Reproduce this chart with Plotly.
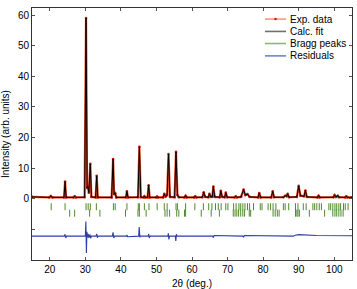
import plotly.graph_objects as go

# ---- data ----
# observed / calculated profile vertices (2theta, intensity)
profile_2theta = [
    15.0, 19.9, 20.3, 20.7, 24.0, 24.3, 24.6, 26.7, 27.0, 27.3,
    29.8, 30.2, 30.5, 30.7, 31.0, 31.4, 31.7, 32.9, 33.2, 33.5,
    37.4, 37.8, 38.1, 38.4, 38.7, 41.4, 41.7, 42.0, 44.8, 45.2, 45.6,
    46.4, 46.6, 46.8, 47.5, 47.8, 48.1, 50.0, 50.2, 50.4,
    51.9, 52.2, 52.6, 53.0, 53.4, 53.8, 55.1, 55.5, 55.9, 56.3,
    57.9, 58.2, 58.5, 60.6, 60.9, 61.2, 62.9, 63.3, 63.7, 64.6, 64.9, 65.3,
    65.7, 66.0, 66.4, 67.8, 68.1, 68.5, 69.2, 69.5, 69.9, 72.0, 72.3, 72.6,
    73.8, 74.5, 75.0, 75.6, 76.2, 78.6, 78.9, 79.3, 82.3, 82.7, 83.1,
    85.7, 86.2, 86.6, 86.9, 87.3, 89.5, 90.0, 90.5, 91.5, 91.9, 92.3,
    95.3, 95.6, 95.9, 99.8, 100.1, 100.5, 101.0, 101.3, 103.1, 103.4, 103.7, 105.0,
]
profile_intensity = [
    0.6, 0.45, 0.9, 0.45, 0.45, 5.6, 0.45, 0.45, 0.8, 0.45,
    0.5, 59.0, 3.5, 4.0, 2.0, 11.4, 0.6, 0.45, 7.5, 0.45,
    0.45, 13.0, 1.5, 1.8, 0.45, 0.45, 2.4, 0.45, 0.5, 17.0, 0.5,
    0.45, 0.8, 0.45, 0.45, 4.4, 0.45, 0.45, 0.7, 0.45,
    0.45, 1.6, 0.7, 1.2, 14.6, 0.6, 0.5, 15.3, 1.2, 0.5,
    0.45, 1.0, 0.45, 0.45, 0.8, 0.45, 0.5, 2.1, 0.6, 0.5, 1.6, 0.6,
    0.6, 4.0, 0.6, 0.5, 2.6, 0.6, 0.5, 2.0, 0.5, 0.45, 0.8, 0.45,
    0.6, 3.0, 1.2, 1.5, 0.6, 0.45, 1.9, 0.45, 0.45, 2.4, 0.5,
    0.5, 1.0, 0.8, 1.6, 0.5, 0.6, 4.2, 1.0, 0.8, 2.7, 0.6,
    0.45, 1.0, 0.45, 0.5, 1.2, 0.6, 1.0, 0.5, 0.45, 0.8, 0.45, 0.45,
]

# residual (obs - calc), drawn offset below the pattern
residual_2theta = [
    15.0, 24.1, 24.3, 24.5, 24.7, 30.0, 30.15, 30.3, 30.45, 30.6, 30.8, 31.0,
    31.3, 31.5, 31.7, 33.0, 33.2, 33.4, 33.6, 37.6, 37.8, 38.0, 38.2,
    41.6, 41.7, 41.9, 45.0, 45.15, 45.35, 45.5, 47.7, 47.8, 48.0, 48.2,
    53.2, 53.35, 53.5, 53.7, 55.3, 55.45, 55.6, 55.8, 65.8, 66.0, 66.2,
    74.3, 74.5, 74.7, 88.5, 89.0, 90.0, 92.0, 95.0, 105.0,
]
residual_value = [
    -12.2, -12.2, -11.6, -12.8, -12.2, -12.2, -7.4, -17.7, -10.8, -12.6, -11.5, -12.8,
    -11.6, -12.9, -12.2, -12.2, -11.5, -12.7, -12.2, -12.2, -11.0, -12.8, -12.2,
    -12.2, -11.8, -12.4, -12.2, -9.2, -12.6, -12.2, -12.2, -11.5, -12.8, -12.2,
    -12.2, -11.3, -13.3, -12.2, -12.2, -13.8, -11.6, -12.2, -12.2, -12.7, -12.0,
    -12.2, -12.6, -12.0, -12.2, -11.9, -11.7, -11.9, -12.0, -12.1,
]

# Bragg reflection positions, two phases
bragg_phase1 = [
    20.4, 24.3, 30.2, 30.8, 31.4, 33.1, 37.9, 38.4, 41.7, 44.9, 45.2, 46.6,
    47.9, 50.2, 52.2, 53.0, 55.5, 55.9, 58.2, 60.8, 63.2, 64.7, 65.6, 66.6,
    67.4, 68.2, 69.5, 70.1, 71.7, 72.4, 73.2, 73.7, 74.3, 74.9, 75.6, 76.2,
    77.3, 79.2, 79.7, 81.4, 82.1, 82.8, 83.6, 85.7, 86.2, 87.2, 89.1, 89.8,
    91.3, 92.1, 94.0, 94.5, 95.1, 95.8, 96.4, 98.5, 99.0, 99.6, 100.2, 100.7,
    101.3, 101.8, 102.6, 103.1, 103.9,
]
bragg_phase2 = [
    25.6, 27.0, 31.2, 34.1, 41.3, 44.8, 45.2, 47.1, 52.4, 53.0, 53.7, 55.7,
    56.3, 57.9, 58.2, 62.6, 65.4, 67.7, 71.6, 72.1, 72.6, 73.1, 73.7, 74.3,
    74.8, 76.1, 76.5, 82.8, 83.4, 84.0, 84.5, 89.1, 89.5, 89.8, 90.2, 93.0,
    97.3, 99.6, 100.2, 100.7, 101.3, 101.9, 102.5,
]
bragg_row_level = [-2.6, -4.7]

x_ticks = [20, 30, 40, 50, 60, 70, 80, 90, 100]
y_ticks = [-10, 0, 10, 20, 30, 40, 50, 60]
y_tick_text = ["", "0", "10", "20", "30", "40", "50", "60"]

legend_labels = ["Exp. data", "Calc. fit", "Bragg peaks", "Residuals"]

# ---- figure ----
FONT = "Liberation Sans, Arial, sans-serif"
RED = "#e4431f"
GREEN = "#4f8a2c"
BLUE = "#2d3fa3"

fig = go.Figure()
fig.add_trace(go.Scatter(
    x=profile_2theta, y=profile_intensity, mode="lines+markers",
    line=dict(color=RED, width=2.2),
    marker=dict(color="#c81e0a", size=2.6),
    showlegend=False, name=legend_labels[0]))
fig.add_trace(go.Scatter(
    x=profile_2theta, y=profile_intensity, mode="lines",
    line=dict(color="black", width=1),
    showlegend=False, name=legend_labels[1]))
for pos, lvl in zip([bragg_phase1, bragg_phase2], bragg_row_level):
    fig.add_trace(go.Scatter(
        x=pos, y=[lvl] * len(pos), mode="markers",
        marker=dict(symbol="line-ns", size=5,
                    line=dict(color=GREEN, width=1)),
        showlegend=False, name=legend_labels[2]))
fig.add_trace(go.Scatter(
    x=residual_2theta, y=residual_value, mode="lines",
    line=dict(color=BLUE, width=1.1),
    showlegend=False, name=legend_labels[3]))

# hand-made compact legend (paper coordinates)
leg_colors = ["#f09a86", "#707070", "#8cb870", "#6f86c8"]
leg_y = [0.956, 0.907, 0.859, 0.810]
shapes = []
annotations = []
for lab, col, yy in zip(legend_labels, leg_colors, leg_y):
    shapes.append(dict(type="line", xref="paper", yref="paper",
                       x0=0.728, x1=0.794, y0=yy, y1=yy,
                       line=dict(color=col, width=1.6)))
    annotations.append(dict(text=lab, xref="paper", yref="paper",
                            x=0.80, y=yy, xanchor="left", yanchor="middle",
                            showarrow=False, font=dict(size=10, color="black")))
shapes.append(dict(type="circle", xref="paper", yref="paper",
                   x0=0.761 - 0.004, x1=0.761 + 0.004,
                   y0=leg_y[0] - 0.005, y1=leg_y[0] + 0.005,
                   fillcolor="#d0200a", line=dict(width=0)))

fig.update_layout(
    width=357, height=289,
    margin=dict(l=32, r=5, t=8, b=29),
    paper_bgcolor="white", plot_bgcolor="white",
    font=dict(family=FONT, size=10, color="black"),
    shapes=shapes, annotations=annotations,
    showlegend=False,
)
fig.update_xaxes(
    range=[15, 105], tickvals=x_ticks, automargin=False,
    showgrid=False, zeroline=False,
    showline=True, mirror="ticks", linecolor="#333333", linewidth=1,
    ticks="inside", ticklen=3, tickcolor="#555555",
    title=dict(text="2θ (deg.)", font=dict(size=10)),
)
fig.update_yaxes(
    range=[-20, 62.3], tickvals=y_ticks, ticktext=y_tick_text, automargin=False,
    showgrid=False, zeroline=False,
    showline=True, mirror="ticks", linecolor="#333333", linewidth=1,
    ticks="inside", ticklen=3, tickcolor="#555555",
    title=dict(text="Intensity (arb. units)", font=dict(size=10)),
)

fig.write_html("out.html", config={"displayModeBar": False},
               post_script="document.body.style.margin='0';document.body.style.overflow='hidden';")
